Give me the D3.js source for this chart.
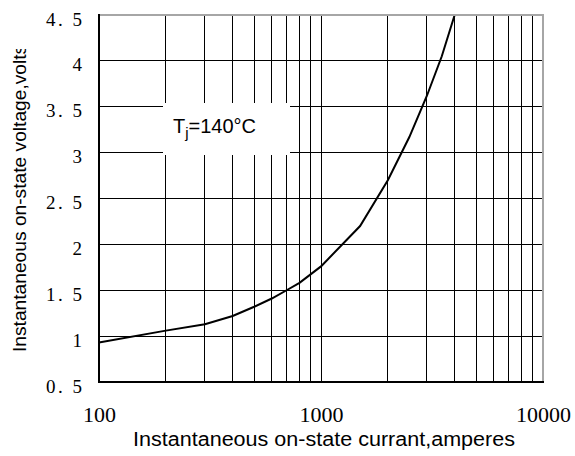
<!DOCTYPE html>
<html>
<head>
<meta charset="utf-8">
<script src="https://cdn.jsdelivr.net/npm/d3@7"></script>
<style>
    body { margin: 0; background: #fff; }
</style>
</head>
<body>
<div id="chart"></div>
<script>
// данные кривой (ток, А / напряжение, В)
var currentA = [100, 200, 300, 400, 500, 600, 700, 800, 1000, 1500, 2000, 2500, 3000, 3500, 4000];
var voltageV = [0.93, 1.06, 1.13, 1.22, 1.32, 1.41, 1.5, 1.58, 1.76, 2.2, 2.7, 3.17, 3.62, 4.05, 4.5];

var xTickValues = [100, 1000, 10000];
var xTickLabels = ["100", "1000", "10000"];
var yTickValues = [0.5, 1, 1.5, 2, 2.5, 3, 3.5, 4, 4.5];
var yTickLabels = ["0. 5", "1", "1. 5", "2", "2. 5", "3", "3. 5", "4", "4. 5"];

var xTitle = "Instantaneous on-state currant,amperes";
var yTitle = "Instantaneous on-state voltage,volts";
var noteParts = ["T", "j", "=140°C"];

var width = 575,
    height = 456,
    plot = {left: 99, top: 15, right: 543, bottom: 382};

var svg = d3.select("#chart")
    .append("svg")
    .attr("width", width)
    .attr("height", height);

var x = d3.scaleLog().domain([100, 10000]).range([plot.left, plot.right]);
var y = d3.scaleLinear().domain([0.5, 4.5]).range([plot.bottom, plot.top]);

// сетка
var grid = svg.append("g").attr("shape-rendering", "crispEdges");

grid.selectAll(".vgrid")
    .data(x.ticks().filter(function (d) { return d > 100 && d < 10000; }))
    .enter()
    .append("line")
    .attr("x1", function (d) { return x(d); })
    .attr("x2", function (d) { return x(d); })
    .attr("y1", plot.top)
    .attr("y2", plot.bottom)
    .attr("stroke", "#000")
    .attr("stroke-width", 1);

grid.selectAll(".hgrid")
    .data(yTickValues.slice(1, -1))
    .enter()
    .append("line")
    .attr("x1", plot.left)
    .attr("x2", plot.right)
    .attr("y1", function (d) { return y(d); })
    .attr("y2", function (d) { return y(d); })
    .attr("stroke", "#000")
    .attr("stroke-width", 1);

// белая подложка под подписью Tj
svg.append("rect")
    .attr("x", 163)
    .attr("y", 103)
    .attr("width", 127)
    .attr("height", 52)
    .attr("fill", "#fff");

var note = svg.append("text")
    .attr("x", 173)
    .attr("y", 133)
    .attr("font-family", "Liberation Sans, Arial, sans-serif")
    .attr("font-size", 20)
    .attr("fill", "#000");
note.append("tspan").text(noteParts[0]);
note.append("tspan").attr("dy", 5).attr("font-size", 15).text(noteParts[1]);
note.append("tspan").attr("dy", -5).text(noteParts[2]);

// кривая
var line = d3.line()
    .x(function (d) { return x(d[0]); })
    .y(function (d) { return y(d[1]); });

svg.append("path")
    .datum(d3.zip(currentA, voltageV))
    .attr("d", line)
    .attr("fill", "none")
    .attr("stroke", "#000")
    .attr("stroke-width", 2);

// рамка: верх и право серые, низ и лево черные
svg.append("line")
    .attr("x1", plot.left).attr("x2", plot.right + 1)
    .attr("y1", plot.top).attr("y2", plot.top)
    .attr("stroke", "#a6a6a6").attr("stroke-width", 2);
svg.append("line")
    .attr("x1", plot.right).attr("x2", plot.right)
    .attr("y1", plot.top).attr("y2", plot.bottom)
    .attr("stroke", "#a6a6a6").attr("stroke-width", 2);
svg.append("line")
    .attr("x1", plot.left).attr("x2", plot.right + 1)
    .attr("y1", plot.bottom).attr("y2", plot.bottom)
    .attr("stroke", "#000").attr("stroke-width", 2);
svg.append("line")
    .attr("x1", plot.left).attr("x2", plot.left)
    .attr("y1", plot.top - 1).attr("y2", plot.bottom + 1)
    .attr("stroke", "#000").attr("stroke-width", 2);

// оси
var yAxis = svg.append("g")
    .attr("transform", "translate(" + plot.left + ",0)")
    .call(d3.axisLeft(y)
        .tickValues(yTickValues)
        .tickSize(0)
        .tickPadding(17)
        .tickFormat(function (d, i) { return yTickLabels[i]; }));
yAxis.select(".domain").remove();
yAxis.selectAll("text")
    .attr("dy", 10)
    .attr("font-family", "Liberation Serif, serif")
    .attr("font-size", 19)
    .attr("fill", "#000")
    .each(function (d, i) {
        if (yTickLabels[i].length > 1) {
            d3.select(this)
                .attr("textLength", yTickLabels[i].length * 9)
                .attr("lengthAdjust", "spacing");
        }
    });

var xAxis = svg.append("g")
    .attr("transform", "translate(0," + plot.bottom + ")")
    .call(d3.axisBottom(x)
        .tickValues(xTickValues)
        .tickSize(0)
        .tickFormat(function (d, i) { return xTickLabels[i]; }));
xAxis.select(".domain").remove();
xAxis.selectAll("text")
    .attr("y", 40)
    .attr("dy", null)
    .attr("font-family", "Liberation Serif, serif")
    .attr("font-size", 22)
    .attr("fill", "#000");

// подписи осей
svg.append("text")
    .attr("x", 133)
    .attr("y", 446)
    .attr("font-family", "Liberation Sans, Arial, sans-serif")
    .attr("font-size", 20)
    .attr("textLength", 382)
    .attr("lengthAdjust", "spacingAndGlyphs")
    .attr("fill", "#000")
    .text(xTitle);

// подпись Y обрезана сверху, как на исходнике
svg.append("clipPath")
    .attr("id", "yclip")
    .append("rect")
    .attr("x", 0).attr("y", 49).attr("width", 40).attr("height", 400);

svg.append("g")
    .attr("clip-path", "url(#yclip)")
    .append("text")
    .attr("transform", "translate(26,352) rotate(-90)")
    .attr("text-anchor", "start")
    .attr("font-family", "Liberation Sans, Arial, sans-serif")
    .attr("font-size", 19.2)
    .attr("fill", "#000")
    .text(yTitle);
</script>
</body>
</html>
